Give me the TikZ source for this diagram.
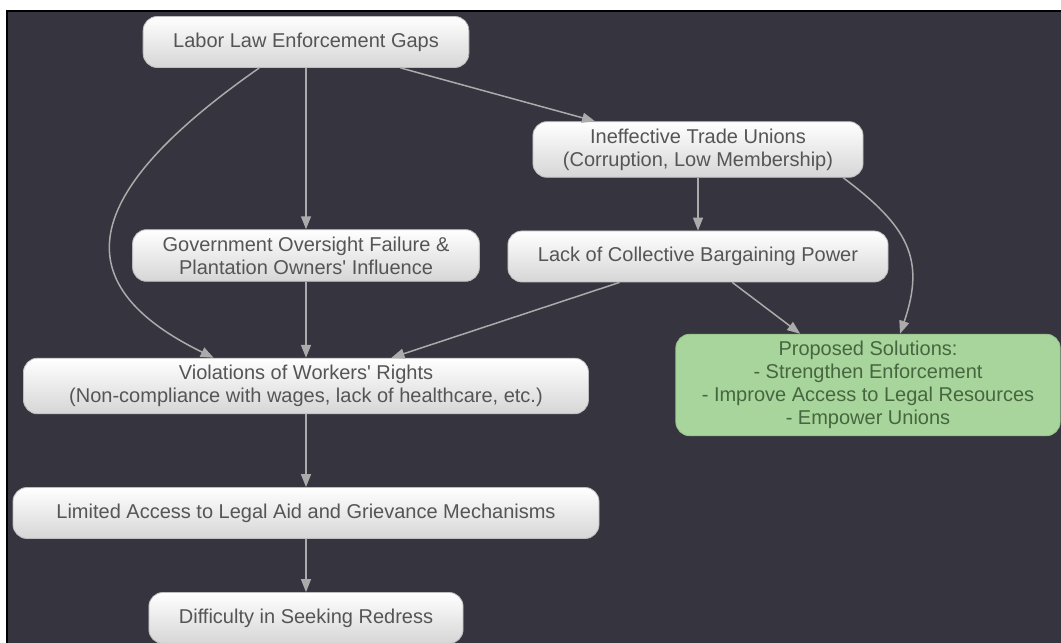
\documentclass[tikz,border=0pt]{standalone}
\usepackage{fontspec}
\setmainfont{Liberation Sans}
\usetikzlibrary{arrows.meta,positioning}
\definecolor{canvas}{HTML}{35343F}
\definecolor{boxtext}{HTML}{555555}
\definecolor{boxline}{HTML}{BDBDBD}
\definecolor{boxlow}{HTML}{D6D6D6}
\definecolor{solfill}{HTML}{A8D59C}
\definecolor{soltext}{HTML}{46663F}
\definecolor{linkgray}{HTML}{ABABAB}

\begin{document}
\begin{tikzpicture}[
    x=0.5pt, y=0.5pt,
    issue/.style={rectangle, rounded corners=7pt, draw=boxline, top color=white, bottom color=boxlow, text=boxtext, align=center, inner xsep=15pt, inner ysep=3.5pt, minimum height=25.5pt, font=\fontsize{10}{11.5}\selectfont},
    solution/.style={issue, inner xsep=13pt, draw=solfill!90!black, top color=solfill, bottom color=solfill, text=soltext},
    link/.style={draw=linkgray, line width=0.75pt, -{Triangle[length=6.5pt,width=5pt]}},
]
\useasboundingbox (0,0) rectangle (1061,643);
\fill[white] (0,0) rectangle (1061,643);
\fill[canvas] (7,0) rectangle (1061,632);
\draw[black, line width=0.8pt] (7,0) -- (7,632) -- (1061,632);

\node[issue] (lab) at (306,601) {Labor Law Enforcement Gaps};
\node[issue] (tu) at (698,493.5) {Ineffective Trade Unions\\(Corruption, Low Membership)};
\node[issue] (gov) at (306,387.5) {Government Oversight Failure \&\\Plantation Owners\textquotesingle{} Influence};
\node[issue] (lack) at (698,386.5) {Lack of Collective Bargaining Power};
\node[issue, minimum width=282.5pt] (vio) at (306,257) {Violations of Workers\textquotesingle{} Rights\\(Non-compliance with wages, lack of healthcare, etc.)};
\node[solution] (sol) at (868,258) {Proposed Solutions:\\- Strengthen Enforcement\\- Improve Access to Legal Resources\\- Empower Unions};
\node[issue, minimum width=293pt] (lim) at (306,130) {Limited Access to Legal Aid and Grievance Mechanisms};
\node[issue] (dif) at (306,25) {Difficulty in Seeking Redress};

\draw[link] (lab) -- (gov);
\draw[link] (lab) -- (tu);
\draw[link] (lab.209.5) .. controls +(215:195) and +(154:185) .. (vio.163.7);
\draw[link] (tu) -- (lack);
\draw[link] (tu.-11) .. controls +(-37:80) and +(71:80) .. (sol.58);
\draw[link] (gov) -- (vio);
\draw[link] (lack) -- (vio);
\draw[link] (lack) -- (sol);
\draw[link] (vio) -- (lim);
\draw[link] (lim) -- (dif);
\end{tikzpicture}
\end{document}
